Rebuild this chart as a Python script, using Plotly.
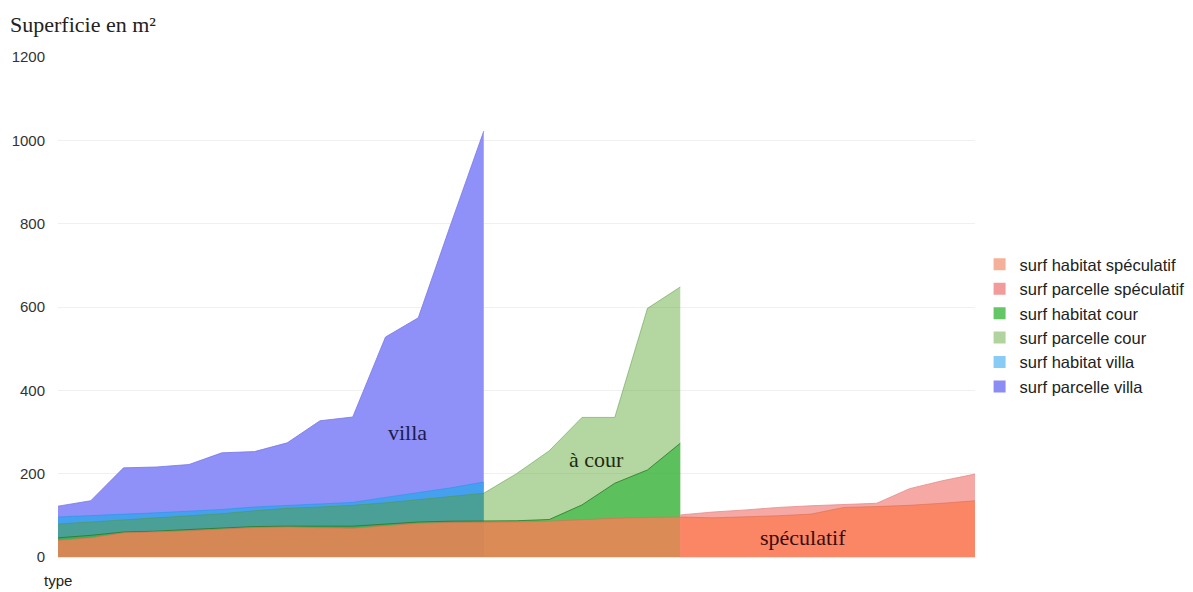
import plotly.graph_objects as go

# ---- data (one row per dwelling, ordered by type: villa, à cour, spéculatif) ----
rang = list(range(29))

surf_parcelle_villa = [122, 135, 214, 216, 222, 250, 253, 274, 327, 336, 528, 574, 800, 1022] + [None] * 15
surf_habitat_villa = [96, 99, 102, 106, 110, 114, 120, 124, 127, 131, 143, 155, 166, 180] + [None] * 15
surf_parcelle_cour = [79, 84, 89, 93, 98, 104, 111, 117, 120, 124, 130, 138, 146, 153,
                      200, 255, 335, 335, 597, 648] + [None] * 9
surf_habitat_cour = [46, 52, 60, 62, 66, 70, 73, 74, 74, 74, 79, 84, 86, 86,
                     87, 90, 125, 177, 209, 273] + [None] * 9
surf_parcelle_speculatif = [None] * 19 + [101, 108, 113, 119, 123, 126, 129, 164, 183, 199]
surf_habitat_speculatif = [40, 46, 58, 60, 63, 67, 71, 72, 70, 69, 75, 81, 83, 83,
                           84, 86, 90, 93, 95, 96, 94, 96, 99, 103, 119, 121, 124, 129, 135]

# drawing order: bottom -> top
series_names = ["surf parcelle villa", "surf habitat villa", "surf parcelle cour",
                "surf habitat cour", "surf parcelle spéculatif", "surf habitat spéculatif"]
series_values = [surf_parcelle_villa, surf_habitat_villa, surf_parcelle_cour,
                 surf_habitat_cour, surf_parcelle_speculatif, surf_habitat_speculatif]
series_fill = ["rgba(143,144,248,1)", "rgba(39,167,236,0.7)", "rgba(80,160,34,0.43)",
               "rgba(54,183,63,0.7)", "rgba(246,168,165,1)", "rgba(251,125,85,0.8)"]
series_line = ["rgba(120,120,230,0.8)", "rgba(39,150,230,0.6)", "rgba(80,150,60,0.5)",
               "rgba(40,120,40,0.8)", "rgba(230,140,140,0.8)", "rgba(220,110,80,0.6)"]
legend_swatch = ["#8c8cf5", "#88ccf5", "#b1d39d", "#64c664", "#f29b9b", "#f6b09a"]
legend_rank = [6, 5, 4, 3, 2, 1]

labels_text = ["villa", "à cour", "spéculatif"]
labels_x = [10.66, 16.43, 22.75]
labels_y = [300, 233, 48]
labels_color = ["#1c1c4a", "#1f2a12", "#3a0c0c"]

fig = go.Figure()
for i, (name, vals) in enumerate(zip(series_names, series_values)):
    xs = [x for x, v in zip(rang, vals) if v is not None]
    ys = [v for v in vals if v is not None]
    fig.add_trace(go.Scatter(
        x=xs, y=ys, name=name, mode="lines", fill="tozeroy",
        fillcolor=series_fill[i], line=dict(color=series_line[i], width=1),
        legendgroup=name, showlegend=False, hoverinfo="skip",
    ))
    # legend entry (square swatch) for the same series
    fig.add_trace(go.Scatter(
        x=[None], y=[None], name=name, mode="markers",
        marker=dict(symbol="square", size=12, color=legend_swatch[i]),
        legendgroup=name, legendrank=legend_rank[i], showlegend=True,
    ))

for t, x, y, c in zip(labels_text, labels_x, labels_y, labels_color):
    fig.add_annotation(x=x, y=y, text=t, showarrow=False,
                       font=dict(family="Liberation Serif", size=22, color=c))

fig.add_annotation(xref="paper", yref="paper", x=-0.0545, y=1.064, xanchor="left",
                   yanchor="middle", text="Superficie en m²", showarrow=False,
                   font=dict(family="Liberation Serif", size=22, color="#222"))
fig.add_annotation(xref="paper", yref="paper", x=-0.0174, y=-0.046, xanchor="left",
                   yanchor="middle", text="type", showarrow=False,
                   font=dict(family="Liberation Sans", size=15, color="#222"))

fig.update_layout(
    width=1193, height=592,
    margin=dict(l=58, r=218, t=57, b=35, autoexpand=False),
    paper_bgcolor="white", plot_bgcolor="white",
    font=dict(family="Liberation Sans", size=13, color="#333"),
    showlegend=True,
    legend=dict(x=1.005, y=0.62, xanchor="left", yanchor="top",
                traceorder="grouped", tracegroupgap=0,
                font=dict(family="Liberation Sans", size=16.5, color="#222"),
                bgcolor="rgba(0,0,0,0)"),
    xaxis=dict(range=[0, 28], showticklabels=False, showgrid=False, zeroline=False,
               showline=False, ticks=""),
    yaxis=dict(range=[0, 1200], tickvals=[0, 200, 400, 600, 800, 1000, 1200],
               showgrid=True, gridcolor="#f0f0f0", zeroline=True, zerolinecolor="#e8e8e8",
               showline=False, ticks="", ticklabelstandoff=12,
               tickfont=dict(family="Liberation Sans", size=15, color="#333")),
)

fig.write_html("out.html", config={"displayModeBar": False},
               post_script="document.body.style.margin='0';"
                           "document.body.style.overflow='hidden';")
